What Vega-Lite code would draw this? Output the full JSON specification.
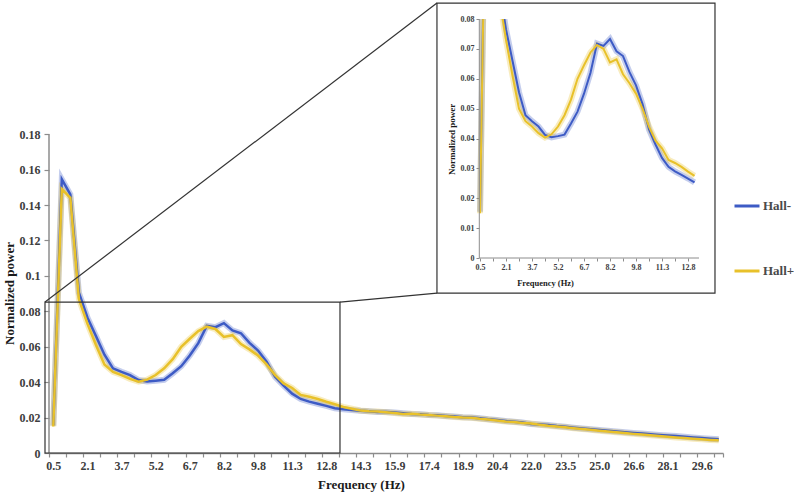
{
  "$schema": "https://vega.github.io/schema/vega-lite/v6.json",
  "width": 674,
  "height": 434,
  "autosize": "none",
  "padding": {"left": 49, "top": 19, "right": 71, "bottom": 43},
  "config": {
    "font": "Liberation Serif",
    "view": {"stroke": null},
    "axis": {
      "grid": false,
      "labelFont": "Liberation Serif",
      "labelFontWeight": "bold",
      "titleFont": "Liberation Serif",
      "titleFontWeight": "bold",
      "labelColor": "#3d3d3d",
      "titleColor": "#1a1a1a",
      "domainColor": "#8c8c8c",
      "tickColor": "#8c8c8c"
    }
  },
  "datasets": {
    "spectrum": [
      {"freq": 0.5, "group": "Hall-", "power": 0.0155},
      {"freq": 0.883, "group": "Hall-", "power": 0.1545},
      {"freq": 1.266, "group": "Hall-", "power": 0.146},
      {"freq": 1.649, "group": "Hall-", "power": 0.0905},
      {"freq": 2.032, "group": "Hall-", "power": 0.0765},
      {"freq": 2.415, "group": "Hall-", "power": 0.066},
      {"freq": 2.797, "group": "Hall-", "power": 0.0555},
      {"freq": 3.18, "group": "Hall-", "power": 0.0478},
      {"freq": 3.563, "group": "Hall-", "power": 0.0458},
      {"freq": 3.946, "group": "Hall-", "power": 0.044},
      {"freq": 4.329, "group": "Hall-", "power": 0.0412},
      {"freq": 4.712, "group": "Hall-", "power": 0.0404},
      {"freq": 5.095, "group": "Hall-", "power": 0.0408},
      {"freq": 5.478, "group": "Hall-", "power": 0.0413},
      {"freq": 5.861, "group": "Hall-", "power": 0.045},
      {"freq": 6.244, "group": "Hall-", "power": 0.049},
      {"freq": 6.626, "group": "Hall-", "power": 0.055},
      {"freq": 7.009, "group": "Hall-", "power": 0.062},
      {"freq": 7.392, "group": "Hall-", "power": 0.0718},
      {"freq": 7.775, "group": "Hall-", "power": 0.071},
      {"freq": 8.158, "group": "Hall-", "power": 0.0733},
      {"freq": 8.541, "group": "Hall-", "power": 0.0692},
      {"freq": 8.924, "group": "Hall-", "power": 0.0676},
      {"freq": 9.307, "group": "Hall-", "power": 0.0622},
      {"freq": 9.69, "group": "Hall-", "power": 0.0578},
      {"freq": 10.073, "group": "Hall-", "power": 0.0515},
      {"freq": 10.455, "group": "Hall-", "power": 0.043},
      {"freq": 10.838, "group": "Hall-", "power": 0.038},
      {"freq": 11.221, "group": "Hall-", "power": 0.0335},
      {"freq": 11.604, "group": "Hall-", "power": 0.0305},
      {"freq": 11.987, "group": "Hall-", "power": 0.029},
      {"freq": 12.37, "group": "Hall-", "power": 0.0278},
      {"freq": 12.753, "group": "Hall-", "power": 0.0266},
      {"freq": 13.136, "group": "Hall-", "power": 0.0253},
      {"freq": 13.519, "group": "Hall-", "power": 0.0247},
      {"freq": 13.902, "group": "Hall-", "power": 0.0242},
      {"freq": 14.284, "group": "Hall-", "power": 0.0238},
      {"freq": 14.667, "group": "Hall-", "power": 0.0236},
      {"freq": 15.05, "group": "Hall-", "power": 0.0232},
      {"freq": 15.433, "group": "Hall-", "power": 0.0231},
      {"freq": 15.816, "group": "Hall-", "power": 0.0228},
      {"freq": 16.199, "group": "Hall-", "power": 0.0224},
      {"freq": 16.582, "group": "Hall-", "power": 0.022},
      {"freq": 16.965, "group": "Hall-", "power": 0.0219},
      {"freq": 17.348, "group": "Hall-", "power": 0.0214},
      {"freq": 17.731, "group": "Hall-", "power": 0.0213},
      {"freq": 18.113, "group": "Hall-", "power": 0.0209},
      {"freq": 18.496, "group": "Hall-", "power": 0.0206},
      {"freq": 18.879, "group": "Hall-", "power": 0.0202},
      {"freq": 19.262, "group": "Hall-", "power": 0.02},
      {"freq": 19.645, "group": "Hall-", "power": 0.0196},
      {"freq": 20.028, "group": "Hall-", "power": 0.019},
      {"freq": 20.411, "group": "Hall-", "power": 0.0186},
      {"freq": 20.794, "group": "Hall-", "power": 0.0181},
      {"freq": 21.177, "group": "Hall-", "power": 0.0176},
      {"freq": 21.56, "group": "Hall-", "power": 0.0172},
      {"freq": 21.942, "group": "Hall-", "power": 0.0164},
      {"freq": 22.325, "group": "Hall-", "power": 0.0161},
      {"freq": 22.708, "group": "Hall-", "power": 0.0158},
      {"freq": 23.091, "group": "Hall-", "power": 0.0152},
      {"freq": 23.474, "group": "Hall-", "power": 0.0148},
      {"freq": 23.857, "group": "Hall-", "power": 0.0143},
      {"freq": 24.24, "group": "Hall-", "power": 0.0138},
      {"freq": 24.623, "group": "Hall-", "power": 0.0134},
      {"freq": 25.006, "group": "Hall-", "power": 0.013},
      {"freq": 25.389, "group": "Hall-", "power": 0.0126},
      {"freq": 25.771, "group": "Hall-", "power": 0.0121},
      {"freq": 26.154, "group": "Hall-", "power": 0.0117},
      {"freq": 26.537, "group": "Hall-", "power": 0.0113},
      {"freq": 26.92, "group": "Hall-", "power": 0.011},
      {"freq": 27.303, "group": "Hall-", "power": 0.0106},
      {"freq": 27.686, "group": "Hall-", "power": 0.0102},
      {"freq": 28.069, "group": "Hall-", "power": 0.0099},
      {"freq": 28.452, "group": "Hall-", "power": 0.0096},
      {"freq": 28.835, "group": "Hall-", "power": 0.0092},
      {"freq": 29.218, "group": "Hall-", "power": 0.0088},
      {"freq": 29.6, "group": "Hall-", "power": 0.0084},
      {"freq": 29.983, "group": "Hall-", "power": 0.008},
      {"freq": 30.366, "group": "Hall-", "power": 0.0077},
      {"freq": 0.5, "group": "Hall+", "power": 0.015},
      {"freq": 0.883, "group": "Hall+", "power": 0.149},
      {"freq": 1.266, "group": "Hall+", "power": 0.144},
      {"freq": 1.649, "group": "Hall+", "power": 0.087},
      {"freq": 2.032, "group": "Hall+", "power": 0.073},
      {"freq": 2.415, "group": "Hall+", "power": 0.061},
      {"freq": 2.797, "group": "Hall+", "power": 0.05},
      {"freq": 3.18, "group": "Hall+", "power": 0.0458},
      {"freq": 3.563, "group": "Hall+", "power": 0.044},
      {"freq": 3.946, "group": "Hall+", "power": 0.0418},
      {"freq": 4.329, "group": "Hall+", "power": 0.0403},
      {"freq": 4.712, "group": "Hall+", "power": 0.0414},
      {"freq": 5.095, "group": "Hall+", "power": 0.044},
      {"freq": 5.478, "group": "Hall+", "power": 0.0478},
      {"freq": 5.861, "group": "Hall+", "power": 0.053},
      {"freq": 6.244, "group": "Hall+", "power": 0.06},
      {"freq": 6.626, "group": "Hall+", "power": 0.0645},
      {"freq": 7.009, "group": "Hall+", "power": 0.0688},
      {"freq": 7.392, "group": "Hall+", "power": 0.0713},
      {"freq": 7.775, "group": "Hall+", "power": 0.07},
      {"freq": 8.158, "group": "Hall+", "power": 0.0655},
      {"freq": 8.541, "group": "Hall+", "power": 0.0665},
      {"freq": 8.924, "group": "Hall+", "power": 0.0615},
      {"freq": 9.307, "group": "Hall+", "power": 0.0585},
      {"freq": 9.69, "group": "Hall+", "power": 0.055},
      {"freq": 10.073, "group": "Hall+", "power": 0.05},
      {"freq": 10.455, "group": "Hall+", "power": 0.044},
      {"freq": 10.838, "group": "Hall+", "power": 0.0393},
      {"freq": 11.221, "group": "Hall+", "power": 0.0367},
      {"freq": 11.604, "group": "Hall+", "power": 0.0328},
      {"freq": 11.987, "group": "Hall+", "power": 0.0318},
      {"freq": 12.37, "group": "Hall+", "power": 0.0305},
      {"freq": 12.753, "group": "Hall+", "power": 0.0289},
      {"freq": 13.136, "group": "Hall+", "power": 0.0275},
      {"freq": 13.519, "group": "Hall+", "power": 0.026},
      {"freq": 13.902, "group": "Hall+", "power": 0.025},
      {"freq": 14.284, "group": "Hall+", "power": 0.024},
      {"freq": 14.667, "group": "Hall+", "power": 0.0236},
      {"freq": 15.05, "group": "Hall+", "power": 0.0234},
      {"freq": 15.433, "group": "Hall+", "power": 0.023},
      {"freq": 15.816, "group": "Hall+", "power": 0.0226},
      {"freq": 16.199, "group": "Hall+", "power": 0.022},
      {"freq": 16.582, "group": "Hall+", "power": 0.0221},
      {"freq": 16.965, "group": "Hall+", "power": 0.0217},
      {"freq": 17.348, "group": "Hall+", "power": 0.0215},
      {"freq": 17.731, "group": "Hall+", "power": 0.0211},
      {"freq": 18.113, "group": "Hall+", "power": 0.0208},
      {"freq": 18.496, "group": "Hall+", "power": 0.0203},
      {"freq": 18.879, "group": "Hall+", "power": 0.02},
      {"freq": 19.262, "group": "Hall+", "power": 0.0199},
      {"freq": 19.645, "group": "Hall+", "power": 0.0193},
      {"freq": 20.028, "group": "Hall+", "power": 0.0189},
      {"freq": 20.411, "group": "Hall+", "power": 0.0184},
      {"freq": 20.794, "group": "Hall+", "power": 0.0178},
      {"freq": 21.177, "group": "Hall+", "power": 0.0175},
      {"freq": 21.56, "group": "Hall+", "power": 0.017},
      {"freq": 21.942, "group": "Hall+", "power": 0.0166},
      {"freq": 22.325, "group": "Hall+", "power": 0.016},
      {"freq": 22.708, "group": "Hall+", "power": 0.0154},
      {"freq": 23.091, "group": "Hall+", "power": 0.015},
      {"freq": 23.474, "group": "Hall+", "power": 0.0145},
      {"freq": 23.857, "group": "Hall+", "power": 0.014},
      {"freq": 24.24, "group": "Hall+", "power": 0.0135},
      {"freq": 24.623, "group": "Hall+", "power": 0.0131},
      {"freq": 25.006, "group": "Hall+", "power": 0.0126},
      {"freq": 25.389, "group": "Hall+", "power": 0.0121},
      {"freq": 25.771, "group": "Hall+", "power": 0.0117},
      {"freq": 26.154, "group": "Hall+", "power": 0.0113},
      {"freq": 26.537, "group": "Hall+", "power": 0.0108},
      {"freq": 26.92, "group": "Hall+", "power": 0.0104},
      {"freq": 27.303, "group": "Hall+", "power": 0.01},
      {"freq": 27.686, "group": "Hall+", "power": 0.0096},
      {"freq": 28.069, "group": "Hall+", "power": 0.0092},
      {"freq": 28.452, "group": "Hall+", "power": 0.0088},
      {"freq": 28.835, "group": "Hall+", "power": 0.0084},
      {"freq": 29.218, "group": "Hall+", "power": 0.008},
      {"freq": 29.6, "group": "Hall+", "power": 0.0077},
      {"freq": 29.983, "group": "Hall+", "power": 0.0074},
      {"freq": 30.366, "group": "Hall+", "power": 0.0072}
    ]
  },
  "resolve": {
    "scale": {"x": "independent", "y": "independent"},
    "axis": {"x": "independent", "y": "independent"}
  },
  "layer": [
    {
      "layer": [
        {
          "data": {"name": "spectrum"},
          "transform": [{"filter": "datum.group == 'Hall-'"}],
          "mark": {"type": "line", "strokeWidth": 6, "opacity": 0.3, "color": "#3d5bc5"},
          "encoding": {
            "x": {
              "field": "freq", "type": "quantitative",
              "scale": {"domain": [0.30855, 30.55765], "nice": false, "zero": false},
              "axis": {
                "title": "Frequency (Hz)",
                "values": [0.30855, 0.5, 1.07435, 1.84015, 2.032, 2.60595, 3.37175, 3.563, 4.13755, 4.90335, 5.095, 5.66915, 6.43495, 6.626, 7.20075, 7.96655, 8.158, 8.73235, 9.49815, 9.69, 10.26395, 11.02975, 11.221, 11.79555, 12.56135, 12.753, 13.32715, 14.09295, 14.284, 14.85875, 15.62455, 15.816, 16.39035, 17.15615, 17.348, 17.92195, 18.68775, 18.879, 19.45355, 20.21935, 20.411, 20.98515, 21.75095, 21.942, 22.51675, 23.28255, 23.474, 24.04835, 24.81415, 25.006, 25.57995, 26.34575, 26.537, 27.11155, 27.87735, 28.069, 28.64315, 29.40895, 29.6, 30.17475, 30.55765],
                "tickCount": 200,
                "labelExpr": "abs((datum.value-0.5)/0.3829 - 2*round((datum.value-0.5)/0.7658)) < 0.25 ? ['0.5','2.1','3.7','5.2','6.7','8.2','9.8','11.3','12.8','14.3','15.9','17.4','18.9','20.4','22.0','23.5','25.0','26.6','28.1','29.6'][round((datum.value-0.5)/1.5316)] : ''",
                "tickColor": {"condition": {"test": "abs((datum.value-0.5)/0.3829 - 2*round((datum.value-0.5)/0.7658)) < 0.25", "value": "transparent"}, "value": "#8c8c8c"},
                "tickSize": 4,
                "tickWidth": 1.2,
                "domainWidth": 1.5,
                "labelFontSize": 12,
                "labelPadding": 3,
                "labelOverlap": false,
                "labelFlush": false,
                "labelBound": false,
                "titleFontSize": 13,
                "titleX": 312,
                "titleY": 25,
                "titleBaseline": "top",
                "titleAlign": "center"
              }
            },
            "y": {
              "field": "power", "type": "quantitative",
              "scale": {"domain": [0, 0.245], "nice": false, "zero": false},
              "axis": {
                "title": "Normalized power",
                "values": [0, 0.02, 0.04, 0.06, 0.08, 0.1, 0.12, 0.14, 0.16, 0.18],
                "tickCount": 50,
                "format": ".2~f",
                "domain": false,
                "tickSize": 5,
                "tickWidth": 1.2,
                "labelFontSize": 12,
                "labelPadding": 4,
                "titleFontSize": 13,
                "titlePadding": 3,
                "titleY": 274,
                "titleAngle": 270,
                "titleAlign": "center",
                "titleBaseline": "bottom"
              }
            }
          }
        },
        {
          "data": {"name": "spectrum"},
          "transform": [{"filter": "datum.group == 'Hall+'"}],
          "mark": {"type": "line", "strokeWidth": 6, "opacity": 0.3, "color": "#e8c12a"},
          "encoding": {
            "x": {"field": "freq", "type": "quantitative"},
            "y": {"field": "power", "type": "quantitative"}
          }
        },
        {
          "data": {"name": "spectrum"},
          "mark": {"type": "line", "strokeWidth": 2.5},
          "encoding": {
            "x": {"field": "freq", "type": "quantitative"},
            "y": {"field": "power", "type": "quantitative"},
            "color": {
              "field": "group", "type": "nominal",
              "scale": {"domain": ["Hall-", "Hall+"], "range": ["#3d5bc5", "#e8c12a"]},
              "legend": {
                "orient": "none", "legendX": 684, "legendY": 173, "title": null,
                "symbolType": "stroke", "symbolSize": 625, "symbolStrokeWidth": 3, "symbolOpacity": 1,
                "labelFont": "Liberation Serif", "labelFontWeight": "bold", "labelFontSize": 13,
                "labelColor": "#4a4a4a", "rowPadding": 44, "labelOffset": 2
              }
            }
          }
        },
        {
          "data": {"values": [{}]},
          "mark": {"type": "rule", "color": "#8c8c8c", "strokeWidth": 1.5},
          "encoding": {
            "x": {"datum": 0.30855, "type": "quantitative"},
            "y": {"datum": 0, "type": "quantitative"},
            "y2": {"datum": 0.18}
          }
        },
        {
          "data": {"values": [{}]},
          "mark": {"type": "rect", "fillOpacity": 0, "stroke": "#333333", "strokeWidth": 1.2},
          "encoding": {
            "x": {"datum": 0.129, "type": "quantitative"},
            "x2": {"datum": 13.368},
            "y": {"datum": 0, "type": "quantitative"},
            "y2": {"datum": 0.0852}
          }
        },
        {
          "data": {"values": [{}]},
          "mark": {"type": "rect", "fillOpacity": 0, "stroke": "#333333", "strokeWidth": 1.2},
          "encoding": {
            "x": {"datum": 17.72, "type": "quantitative"},
            "x2": {"datum": 30.198},
            "y": {"datum": 0.0903, "type": "quantitative"},
            "y2": {"datum": 0.254}
          }
        },
        {
          "data": {"values": [{}]},
          "mark": {"type": "rule", "color": "#333333", "strokeWidth": 1.2},
          "encoding": {
            "x": {"datum": 0.129, "type": "quantitative"},
            "x2": {"datum": 17.72},
            "y": {"datum": 0.0852, "type": "quantitative"},
            "y2": {"datum": 0.254}
          }
        },
        {
          "data": {"values": [{}]},
          "mark": {"type": "rule", "color": "#333333", "strokeWidth": 1.2},
          "encoding": {
            "x": {"datum": 13.368, "type": "quantitative"},
            "x2": {"datum": 17.72},
            "y": {"datum": 0.0852, "type": "quantitative"},
            "y2": {"datum": 0.0903}
          }
        }
      ]
    },
    {
      "layer": [
        {
          "data": {"name": "spectrum"},
          "transform": [{"filter": "datum.freq < 13.2 && datum.group == 'Hall-'"}],
          "mark": {"type": "line", "strokeWidth": 6, "opacity": 0.3, "clip": true, "color": "#3d5bc5"},
          "encoding": {
            "x": {
              "field": "freq", "type": "quantitative",
              "scale": {"domain": [-24.889, 14.814], "nice": false, "zero": false},
              "axis": {
                "orient": "bottom",
                "offset": -195,
                "title": "Frequency (Hz)",
                "values": [0.5, 1.266, 2.032, 2.797, 3.563, 4.329, 5.095, 5.861, 6.626, 7.392, 8.158, 8.924, 9.69, 10.455, 11.221, 11.987, 12.753],
                "tickCount": 100,
                "labelExpr": "abs((datum.value-0.5)/0.3829 - 4*round((datum.value-0.5)/1.5316)) < 0.25 ? ['0.5','2.1','3.7','5.2','6.7','8.2','9.8','11.3','12.8'][round((datum.value-0.5)/1.5316)] : ''",
                "domain": false,
                "tickSize": 3,
                "tickWidth": 1,
                "labelFontSize": 8,
                "labelPadding": 2,
                "labelOverlap": false,
                "labelFlush": false,
                "labelBound": false,
                "titleFontSize": 8.5,
                "titleX": 496,
                "titleY": 20,
                "titleBaseline": "top",
                "titleAlign": "center"
              }
            },
            "y": {
              "field": "power", "type": "quantitative",
              "scale": {"domain": [-0.06527, 0.08], "nice": false, "zero": false},
              "axis": {
                "orient": "left",
                "offset": -430,
                "title": "Normalized power",
                "values": [0, 0.01, 0.02, 0.03, 0.04, 0.05, 0.06, 0.07, 0.08],
                "tickCount": 100,
                "format": ".2~f",
                "domain": false,
                "tickSize": 3,
                "tickWidth": 1,
                "labelFontSize": 8,
                "labelPadding": 2,
                "labelOverlap": false,
                "titleFontSize": 9,
                "titlePadding": 4,
                "titleY": 155.5,
                "titleAngle": 270,
                "titleAlign": "left",
                "titleBaseline": "bottom"
              }
            }
          }
        },
        {
          "data": {"name": "spectrum"},
          "transform": [{"filter": "datum.freq < 13.2 && datum.group == 'Hall+'"}],
          "mark": {"type": "line", "strokeWidth": 6, "opacity": 0.3, "clip": true, "color": "#e8c12a"},
          "encoding": {
            "x": {"field": "freq", "type": "quantitative"},
            "y": {"field": "power", "type": "quantitative"}
          }
        },
        {
          "data": {"name": "spectrum"},
          "transform": [{"filter": "datum.freq < 13.2"}],
          "mark": {"type": "line", "strokeWidth": 2, "clip": true},
          "encoding": {
            "x": {"field": "freq", "type": "quantitative"},
            "y": {"field": "power", "type": "quantitative"},
            "color": {"field": "group", "type": "nominal"}
          }
        },
        {
          "data": {"values": [{}]},
          "mark": {"type": "rule", "color": "#8c8c8c", "strokeWidth": 1},
          "encoding": {
            "x": {"datum": 0.459, "type": "quantitative"},
            "x2": {"datum": 13.4},
            "y": {"datum": 0, "type": "quantitative"}
          }
        },
        {
          "data": {"values": [{}]},
          "mark": {"type": "rule", "color": "#8c8c8c", "strokeWidth": 1},
          "encoding": {
            "x": {"datum": 0.459, "type": "quantitative"},
            "y": {"datum": 0, "type": "quantitative"},
            "y2": {"datum": 0.08}
          }
        }
      ]
    }
  ]
}
